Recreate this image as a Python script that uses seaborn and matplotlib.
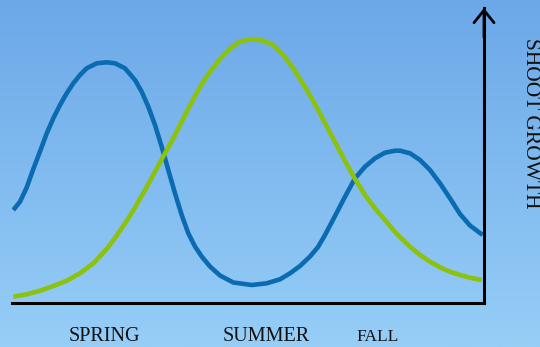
import numpy as np
import matplotlib
matplotlib.use("Agg")
import matplotlib.pyplot as plt
import matplotlib.transforms as mtransforms
import seaborn as sns
import pandas as pd

# ---- data (x = position along season axis, y = shoot growth) ----
blue_x = [1.3, 8, 14.7, 21.3, 28, 34.7, 41.3, 48, 54.7, 61.3, 68, 74.7, 84.7, 94.7,
          103, 113, 123, 129.7, 136.3, 143, 149.7, 156.3, 163, 169.7, 176.3, 183, 189.7,
          198, 208, 221.3, 239.7, 254.7, 268, 278, 288, 298, 306, 313, 323, 333, 343,
          353, 363, 373, 383, 388, 398, 408, 418, 428, 438, 448, 458, 468, 470.7]
blue_y = [93, 101.3, 115.5, 134, 151.5, 169.5, 184.7, 198, 209.7, 219.7, 228, 234.7,
          239.7, 240.7, 239.7, 234.7, 223, 211.3, 196.3, 178, 156.3, 133, 109.7, 88,
          69.7, 56.5, 46.5, 36.5, 27.5, 20.5, 18, 19.7, 23.7, 29.7, 37, 46.5, 56,
          68, 87, 106.3, 124.7, 136.3, 144.7, 150.3, 152.3, 152.3, 149.7, 143,
          133, 119.7, 104.7, 89, 77.5, 70, 68]

green_x = [1.3, 14.7, 28, 41.3, 54.7, 68, 81.3, 94.7, 103, 113, 123, 133, 143, 153,
           163, 173, 183, 188, 193, 198, 208, 218, 228, 239.7, 251.3, 261.3, 271.3,
           281.3, 293, 303, 313, 323, 333, 343, 353, 363, 373, 383, 388, 398, 408,
           418, 428, 438, 448, 458, 469.7]
green_y = [6.3, 8.7, 12.3, 17, 22.3, 29.7, 39.7, 54, 65, 79.5, 95.5, 113, 131.3,
           149.7, 168, 188, 207, 216, 224, 231, 244, 254.5, 261.5, 264, 262.3,
           258, 248, 234.7, 216, 199, 180, 161, 142, 124, 108, 94.5, 83, 71, 66,
           56.3, 48, 41.3, 35.7, 31.3, 28, 25.3, 23]

season_labels = ["SPRING", "SUMMER", "FALL"]
axis_title = "SHOOT GROWTH"

# ---- layout / style ----
W, H, DPI = 540, 347, 100
season_pos = [92, 254, 366]
season_sizes = [14.5, 14.5, 12.5]
blue_color = "#0a6bb0"
green_color = "#8cc10c"

sns.set_theme(style="white")
plt.rcParams["font.family"] = ["Liberation Serif", "DejaVu Serif"]

fig = plt.figure(figsize=(W / DPI, H / DPI), dpi=DPI)

# gradient background
bg = fig.add_axes([0, 0, 1, 1])
top = np.array([108, 168, 232]) / 255
bot = np.array([150, 206, 247]) / 255
t = np.linspace(0, 1, 256)[:, None]
grad = top[None, :] * (1 - t) + bot[None, :] * t
grad = np.repeat(grad[:, None, :], 2, axis=1)
bg.imshow(grad, aspect="auto", extent=[0, 1, 0, 1], origin="upper")
bg.set_axis_off()

ax = fig.add_axes([12 / W, (H - 303) / H, 472 / W, 295 / H])
ax.set_facecolor("none")
ax.patch.set_alpha(0)

blue_df = pd.DataFrame({"x": blue_x, "y": blue_y})
green_df = pd.DataFrame({"x": green_x, "y": green_y})
sns.lineplot(data=blue_df, x="x", y="y", ax=ax, color=blue_color, lw=3.3,
             solid_capstyle="butt", solid_joinstyle="round")
sns.lineplot(data=green_df, x="x", y="y", ax=ax, color=green_color, lw=3.3,
             solid_capstyle="butt", solid_joinstyle="round")

ax.set_xlim(0, 472)
ax.set_ylim(0, 295)
ax.set_xticks([])
ax.set_yticks([])
ax.set_xlabel("")
ax.set_ylabel("")
for s in ["top", "left"]:
    ax.spines[s].set_visible(False)
for s in ["bottom", "right"]:
    ax.spines[s].set_visible(True)
    ax.spines[s].set_color("black")
    ax.spines[s].set_linewidth(2.2)

# arrow head on the vertical axis
ax.annotate("", xy=(1, 1.0), xycoords="axes fraction", xytext=(1, 0.9),
            arrowprops=dict(arrowstyle="->,head_length=0.45,head_width=0.36",
                            lw=2.0, color="black", shrinkA=0, shrinkB=0,
                            mutation_scale=20),
            annotation_clip=False)

trans = mtransforms.blended_transform_factory(ax.transData, ax.transAxes)
for lab, xp, fs in zip(season_labels, season_pos, season_sizes):
    ax.text(xp, (303 - 341) / 295, lab, transform=trans, ha="center", va="baseline",
            fontsize=fs, color="#111111", clip_on=False)

fig.text(530 / W, (H - 123) / H, axis_title, rotation=270, ha="center", va="center",
         fontsize=15.5, color="#111111")

fig.savefig("out.png", dpi=DPI)
